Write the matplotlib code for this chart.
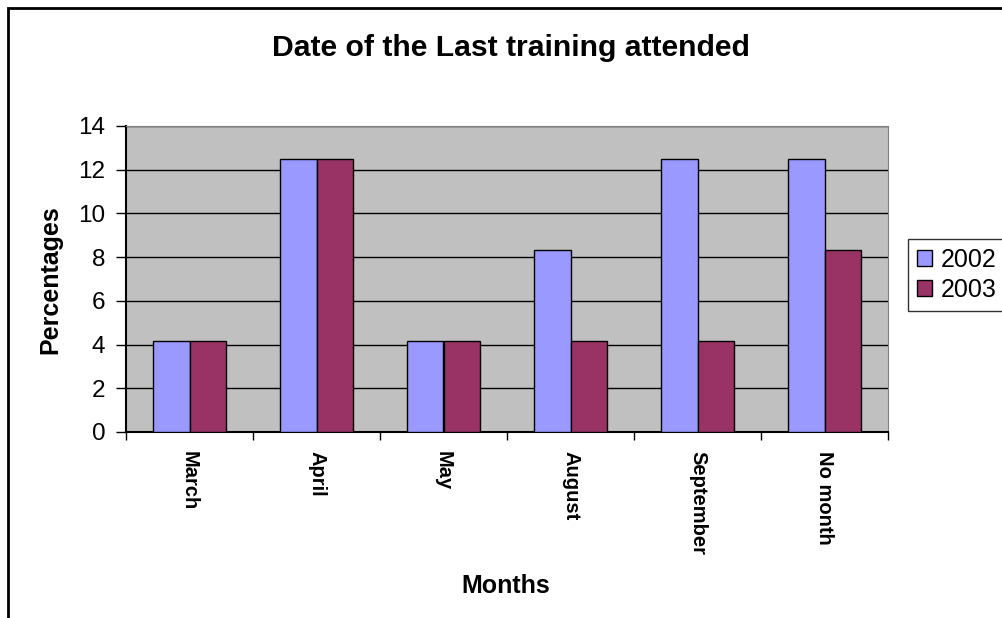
import matplotlib.pyplot as plt
import numpy as np
from matplotlib.patches import Rectangle

plt.rcParams['font.family'] = ['Liberation Sans', 'DejaVu Sans']

months = ['March', 'April', 'May', 'August', 'September', 'No month']
y2002 = [4.17, 12.5, 4.17, 8.33, 12.5, 12.5]
y2003 = [4.17, 12.5, 4.17, 4.17, 4.17, 8.33]
years = ['2002', '2003']
colors = ['#9999FF', '#993366']

fig = plt.figure(figsize=(10.03, 6.18), dpi=100)
# outer chart frame (runs off the right and bottom edge)
fig.patches.append(Rectangle((8 / 1003, -0.1), 1.2, 1 - 8 / 618 + 0.1,
                             transform=fig.transFigure, fill=False,
                             edgecolor='black', linewidth=2))

ax = fig.add_axes([126 / 1003, 1 - 432 / 618, 762 / 1003, 306 / 618])
ax.set_facecolor('#C0C0C0')

x = np.arange(len(months))
w = 0.29
ax.bar(x - w / 2, y2002, w, color=colors[0], edgecolor='black', linewidth=1, label=years[0], zorder=3)
ax.bar(x + w / 2, y2003, w, color=colors[1], edgecolor='black', linewidth=1, label=years[1], zorder=3)

ax.set_xlim(-0.5, len(months) - 0.5)
ax.set_ylim(0, 14)
ax.set_yticks(range(0, 15, 2))
ax.yaxis.grid(True, color='black', linewidth=1, zorder=1)
ax.set_axisbelow(True)

# separator ticks between categories, names centred on minor ticks
ax.set_xticks(np.append(x - 0.5, len(months) - 0.5))
ax.set_xticklabels([])
ax.set_xticks(x, minor=True)
ax.set_xticklabels(months, minor=True, rotation=-90, fontsize=14.5, fontweight='bold', va='top')
ax.tick_params(axis='x', which='minor', length=0, pad=14)
ax.tick_params(axis='x', which='major', length=6, width=1, direction='out')
ax.tick_params(axis='y', length=7, width=1, direction='out', labelsize=17.5, pad=8)

ax.spines['top'].set_color('#808080')
ax.spines['right'].set_color('#808080')
ax.spines['left'].set_linewidth(1.5)
ax.spines['bottom'].set_linewidth(1.5)

ax.set_ylabel('Percentages', fontsize=18, fontweight='bold')
ax.yaxis.set_label_coords((50 - 126) / 762, (432 - 280) / 306)
ax.set_xlabel('Months', fontsize=18, fontweight='bold')
ax.xaxis.set_label_coords((506 - 126) / 762, -(586 - 432) / 306)
ax.xaxis.label.set_va('center')
ax.yaxis.label.set_va('center')
fig.text(511 / 1003, 1 - 48 / 618, 'Date of the Last training attended', ha='center', va='center',
         fontsize=21.7, fontweight='bold')

leg = ax.legend(loc='upper left', bbox_to_anchor=(908 / 1003, 1 - 239 / 618), bbox_transform=fig.transFigure,
                fontsize=18, frameon=True, fancybox=False, edgecolor='black', handlelength=0.6, handleheight=0.6,
                handletextpad=0.35, borderpad=0.35, labelspacing=0.25, borderaxespad=0)
leg.get_frame().set_linewidth(1)

fig.savefig('out.png', dpi=100)
